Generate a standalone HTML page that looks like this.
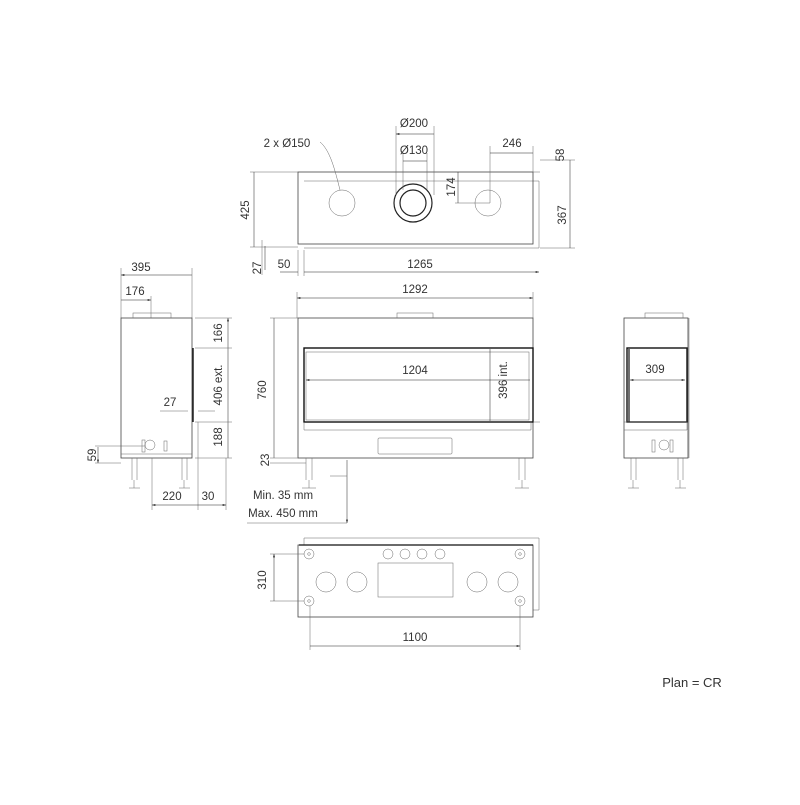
<!DOCTYPE html>
<html><head><style>body{margin:0;background:#fff}</style></head><body>
<svg width="800" height="800" xmlns="http://www.w3.org/2000/svg" font-family="Liberation Sans, sans-serif" font-size="12" fill="none" stroke="#333" stroke-width="0.8">
<defs><marker id="a" viewBox="0 0 10 6" refX="10" refY="3" markerWidth="8" markerHeight="4" orient="auto-start-reverse"><path d="M0,0L10,3L0,6z" fill="#222" stroke="none"/></marker></defs>
<g stroke-width="0.5" stroke="#666">
<!-- TOP VIEW -->
<path d="M304,181H539V248H304"/>
<rect x="298" y="172" width="235" height="72" stroke="#444" stroke-width="0.8"/>
<circle cx="342" cy="203" r="13"/><circle cx="413" cy="203" r="19" stroke-width="1.2" stroke="#222"/><circle cx="413" cy="203" r="13" stroke-width="1.2" stroke="#222"/><circle cx="488" cy="203" r="13"/>
<path d="M396,126V195M434,126V195M403,153V190M427,153V190M490,146V203M533,146V172M455,172H540M455,203H490M540,160H575M540,248H575M250,172H298M250,247H298M262,240V275M304,250V276M298,250V276M320,142C330,150 335,170 340,190"/>
<path d="M396,134H434M403,161H427M490,153H533M458,172V203M570,160V248M254,172V247M304,272H539" marker-start="url(#a)" marker-end="url(#a)" stroke="#222"/>
<path d="M265,246V270M280,272H298" stroke="#222"/>
<!-- FRONT VIEW -->
<path d="M297,298H533" marker-start="url(#a)" marker-end="url(#a)" stroke="#222"/>
<path d="M297,292V318M533,292V318"/>
<rect x="298" y="318" width="235" height="140" stroke="#444" stroke-width="0.8"/>
<rect x="397" y="313" width="36" height="5"/>
<rect x="304" y="348" width="229" height="74" stroke="#111" stroke-width="1.4"/>
<rect x="306" y="352" width="223" height="68"/>
<path d="M304,422V430H531V422M533,422H540"/>
<rect x="378" y="438" width="74" height="16" rx="1"/>
<path d="M306,458V480M312,458V480M302,488H316M309,480V488M519,458V480M525,458V480M515,488H529M522,480V488"/>
<path d="M306,380H530M490,349V421M274,318V458M347,460V523" marker-start="url(#a)" marker-end="url(#a)" stroke="#222"/>
<path d="M270,318H298M270,458H298M270,463H306M247,523H347M330,476H347"/>
<!-- LEFT SIDE -->
<path d="M121,275H192M121,300H151" marker-start="url(#a)" marker-end="url(#a)" stroke="#222"/>
<path d="M121,268V318M192,268V318M151,296V318"/>
<rect x="121" y="318" width="71" height="140" stroke="#444" stroke-width="0.8"/>
<rect x="133" y="313" width="38" height="5"/>
<path d="M121,454H192" /><path d="M193,348V422" stroke="#111" stroke-width="1.4"/>
<circle cx="150" cy="445" r="5"/><rect x="142" y="440" width="3" height="12"/><rect x="164" y="441" width="3" height="10"/>
<path d="M132,458V480M137,458V480M129,488H140M134,480V488M182,458V480M187,458V480M179,488H190M184,480V488"/>
<path d="M228,318V458M98,447V463" marker-start="url(#a)" marker-end="url(#a)" stroke="#222"/>
<path d="M195,318H232M195,348H232M195,422H232M195,458H232M95,446H145M95,463H121M152,458V510M198,422V510M226,458V510M160,411H188M198,411H215"/>
<path d="M152,505H198M198,505H226" marker-start="url(#a)" marker-end="url(#a)" stroke="#222"/>
<!-- RIGHT SIDE -->
<rect x="624" y="318" width="64" height="140" stroke="#444" stroke-width="0.8"/>
<rect x="645" y="313" width="38" height="5"/>
<rect x="627" y="348" width="60" height="74" stroke="#111" stroke-width="1.4"/>
<path d="M629,349V422" stroke="#111" stroke-width="1.2"/>
<path d="M624,422H687V430H624M689,318V458"/>
<circle cx="664" cy="445" r="5"/><rect x="652" y="440" width="3" height="12"/><rect x="670" y="440" width="3" height="12"/>
<path d="M631,458V480M636,458V480M628,488H639M633,480V488M678,458V480M683,458V480M675,488H686M680,480V488"/>
<path d="M630,380H685" marker-start="url(#a)" marker-end="url(#a)" stroke="#222"/>
<!-- BOTTOM VIEW -->
<path d="M304,545V538H539V610H533"/>
<rect x="298" y="545" width="235" height="72" stroke="#444" stroke-width="0.8"/>
<path d="M299,545H533" stroke="#111" stroke-width="1.2"/>
<circle cx="309" cy="554" r="5"/><circle cx="309" cy="554" r="1.3"/><circle cx="520" cy="554" r="5"/><circle cx="520" cy="554" r="1.3"/>
<circle cx="309" cy="601" r="5"/><circle cx="309" cy="601" r="1.3"/><circle cx="520" cy="601" r="5"/><circle cx="520" cy="601" r="1.3"/>
<circle cx="388" cy="554" r="5"/><circle cx="405" cy="554" r="5"/><circle cx="422" cy="554" r="5"/><circle cx="440" cy="554" r="5"/>
<circle cx="326" cy="582" r="10"/><circle cx="357" cy="582" r="10"/><circle cx="477" cy="582" r="10"/><circle cx="508" cy="582" r="10"/>
<rect x="378" y="563" width="75" height="34"/>
<path d="M270,554H304M270,601H304M310,606V650M520,606V650"/>
<path d="M274,554V601M310,646H520" marker-start="url(#a)" marker-end="url(#a)" stroke="#222"/>
</g>
<g fill="#333" stroke="none" font-size="11.5">
<text x="414" y="127" text-anchor="middle">Ø200</text>
<text x="414" y="154" text-anchor="middle">Ø130</text>
<text x="287" y="147" text-anchor="middle">2 x Ø150</text>
<text x="512" y="147" text-anchor="middle">246</text>
<text x="420" y="268" text-anchor="middle">1265</text>
<text x="284" y="268" text-anchor="middle">50</text>
<text x="415" y="293" text-anchor="middle">1292</text>
<text x="141" y="271" text-anchor="middle">395</text>
<text x="135" y="295" text-anchor="middle">176</text>
<text x="415" y="374" text-anchor="middle">1204</text>
<text x="655" y="373" text-anchor="middle">309</text>
<text x="170" y="406" text-anchor="middle">27</text>
<text x="172" y="500" text-anchor="middle">220</text>
<text x="208" y="500" text-anchor="middle">30</text>
<text x="283" y="499" text-anchor="middle">Min. 35 mm</text>
<text x="283" y="517" text-anchor="middle">Max. 450 mm</text>
<text x="415" y="641" text-anchor="middle">1100</text>
<text transform="translate(249,210) rotate(-90)" text-anchor="middle">425</text>
<text transform="translate(261,268) rotate(-90)" text-anchor="middle">27</text>
<text transform="translate(455,187) rotate(-90)" text-anchor="middle">174</text>
<text transform="translate(564,155) rotate(-90)" text-anchor="middle">58</text>
<text transform="translate(566,215) rotate(-90)" text-anchor="middle">367</text>
<text transform="translate(266,390) rotate(-90)" text-anchor="middle">760</text>
<text transform="translate(269,460) rotate(-90)" text-anchor="middle">23</text>
<text transform="translate(507,380) rotate(-90)" text-anchor="middle">396 int.</text>
<text transform="translate(222,333) rotate(-90)" text-anchor="middle">166</text>
<text transform="translate(222,385) rotate(-90)" text-anchor="middle">406 ext.</text>
<text transform="translate(222,437) rotate(-90)" text-anchor="middle">188</text>
<text transform="translate(96,455) rotate(-90)" text-anchor="middle">59</text>
<text transform="translate(266,580) rotate(-90)" text-anchor="middle">310</text>
<text x="692" y="687" text-anchor="middle" font-size="13">Plan = CR</text>
</g>
</svg>
</body></html>
